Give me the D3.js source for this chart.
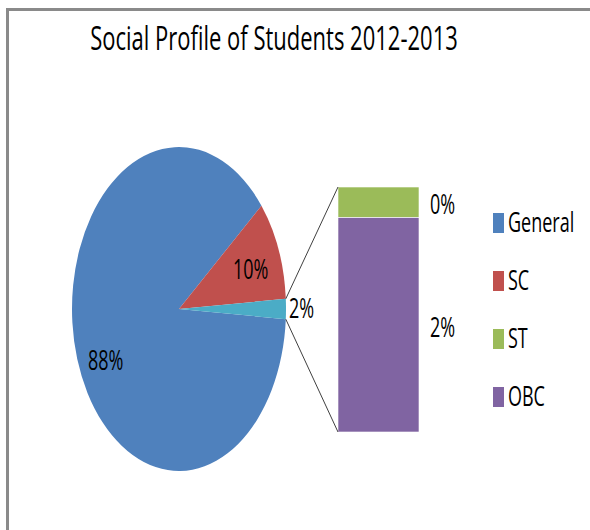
<!DOCTYPE html>
<html>
<head>
<meta charset="utf-8">
<script src="https://cdn.jsdelivr.net/npm/d3@7"></script>
<style>
  body { margin: 0; background: #fff; }
  text { font-family: "Open Sans", sans-serif; fill: #000; }
</style>
</head>
<body>
<div id="chart"></div>
<script>
// pie values (%), the last pie slice is split into the bar
const pieNames = ["General", "SC", "Other"];
const pieValues = [88, 10, 2];
const pieLabels = ["88%", "10%", "2%"];

const barNames = ["ST", "OBC"];
const barValues = [0.25, 1.75];
const barLabels = ["0%", "2%"];

const legendNames = ["General", "SC", "ST", "OBC"];
const colors = {General: "#4f81bd", SC: "#c0504d", Other: "#4bacc6", ST: "#9bbb59", OBC: "#8064a2"};

const width = 590, height = 530;
const stretch = 1.5; // the picture is stretched vertically

var svg = d3.select("#chart")
    .append("svg")
    .attr("width", width)
    .attr("height", height);

// frame
svg.append("path")
    .attr("d", "M7.5,530 V9.5 H590")
    .attr("fill", "none")
    .attr("stroke", "#8a8a8a")
    .attr("stroke-width", 3);

// title
svg.append("text")
    .attr("transform", "translate(274,50) scale(1," + stretch + ")")
    .attr("text-anchor", "middle")
    .style("font-size", "22px")
    .text("Social Profile of Students 2012-2013");

// pie
const cx = 179, cy = 309, r = 107, sy = 162 / 107;
const total = d3.sum(pieValues);
const otherFrac = pieValues[2] / total;
// other slice centred on 3 o'clock
const start = Math.PI / 2 + otherFrac * Math.PI - 2 * Math.PI;

const pie = d3.pie().sort(null).startAngle(start).endAngle(start + 2 * Math.PI);
const arcs = pie(pieValues);
const arc = d3.arc().innerRadius(0).outerRadius(r);

var g = svg.append("g")
    .attr("transform", "translate(" + cx + "," + cy + ") scale(1," + sy + ")");
g.selectAll("path")
    .data(arcs)
    .enter().append("path")
    .attr("d", arc)
    .attr("fill", function(d, i) { return colors[pieNames[i]]; });

function piePoint(a, k) {
    return [cx + Math.sin(a) * r * k, cy - Math.cos(a) * r * sy * k];
}

// pie labels
arcs.forEach(function(d, i) {
    let mid = (d.startAngle + d.endAngle) / 2;
    let p, anchor = "middle";
    if (i === 2) {
        p = piePoint(mid, 1);
        p[0] += 3;
        anchor = "start";
    } else {
        p = piePoint(mid, 0.72);
        p[1] += (i === 0) ? 16 : 4;
    }
    svg.append("text")
        .attr("transform", "translate(" + p[0] + "," + (p[1] + 9) + ") scale(1," + stretch + ")")
        .attr("text-anchor", anchor)
        .style("font-size", "18px")
        .text(pieLabels[i]);
});

// bar of the "other" slice
const barX = 338, barW = 81;
var y = d3.scaleLinear()
    .domain([0, d3.sum(barValues)])
    .range([187, 432]);
let acc = 0;
const segs = barValues.map(function(v, i) {
    let s = {name: barNames[i], y0: acc, y1: acc + v, label: barLabels[i]};
    acc += v;
    return s;
});

svg.selectAll(".seg")
    .data(segs)
    .enter().append("rect")
    .attr("class", "seg")
    .attr("x", barX)
    .attr("width", barW)
    .attr("y", function(d) { return y(d.y0); })
    .attr("height", function(d) { return y(d.y1) - y(d.y0); })
    .attr("fill", function(d) { return colors[d.name]; })
    .attr("stroke", "#fff")
    .attr("stroke-width", 0.6);

segs.forEach(function(d) {
    let ym = (y(d.y0) + y(d.y1)) / 2;
    svg.append("text")
        .attr("transform", "translate(" + (barX + barW + 11) + "," + (ym + 12) + ") scale(1," + stretch + ")")
        .style("font-size", "18px")
        .text(d.label);
});

// connector lines
const o = arcs[2];
const pTop = piePoint(o.startAngle, 1);
const pBot = piePoint(o.endAngle, 1);
svg.append("line")
    .attr("x1", pTop[0]).attr("y1", pTop[1])
    .attr("x2", barX).attr("y2", y.range()[0])
    .attr("stroke", "#404040").attr("stroke-width", 1);
svg.append("line")
    .attr("x1", pBot[0]).attr("y1", pBot[1])
    .attr("x2", barX).attr("y2", y.range()[1])
    .attr("stroke", "#404040").attr("stroke-width", 1);

// legend
var ly = d3.scalePoint()
    .domain(legendNames)
    .range([223, 397]);
var leg = svg.selectAll(".leg")
    .data(legendNames)
    .enter().append("g")
    .attr("class", "leg")
    .attr("transform", function(d) { return "translate(493," + ly(d) + ")"; });
leg.append("rect")
    .attr("x", 0).attr("y", -10)
    .attr("width", 11).attr("height", 20)
    .attr("fill", function(d) { return colors[d]; });
leg.append("text")
    .attr("transform", "translate(15,9) scale(1," + stretch + ")")
    .style("font-size", "18px")
    .text(function(d) { return d; });
</script>
</body>
</html>
